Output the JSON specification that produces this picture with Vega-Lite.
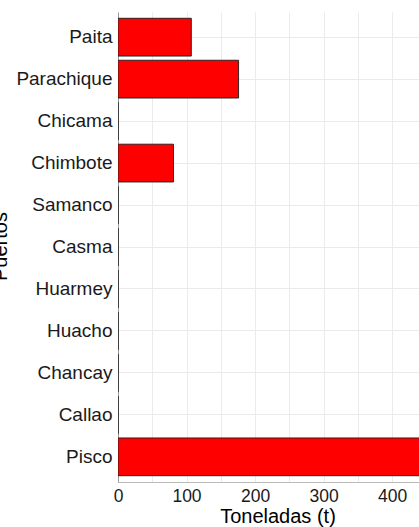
{
  "$schema": "https://vega.github.io/schema/vega-lite/v6.json",
  "autosize": {"type": "none"},
  "padding": {"left": 118, "top": 12, "right": 0, "bottom": 45},
  "width": 301,
  "height": 470,
  "background": "white",
  "config": {
    "view": {"stroke": null},
    "font": "Liberation Sans"
  },
  "data": {
    "values": [
      {"puerto": "Paita", "t": 107},
      {"puerto": "Parachique", "t": 176},
      {"puerto": "Chicama", "t": 0},
      {"puerto": "Chimbote", "t": 81},
      {"puerto": "Samanco", "t": 0},
      {"puerto": "Casma", "t": 0},
      {"puerto": "Huarmey", "t": 0},
      {"puerto": "Huacho", "t": 0},
      {"puerto": "Chancay", "t": 0},
      {"puerto": "Callao", "t": 0},
      {"puerto": "Pisco", "t": 465}
    ]
  },
  "mark": {"type": "bar", "fill": "#FF0000", "stroke": "#1a1a1a", "strokeWidth": 0.9, "clip": true},
  "encoding": {
    "y": {
      "field": "puerto",
      "type": "nominal",
      "sort": null,
      "scale": {"paddingInner": 0.1, "paddingOuter": 0.15},
      "axis": {
        "title": "Puertos",
        "titleFontSize": 20,
        "titleFontWeight": "normal",
        "titleColor": "#000000",
        "titleAngle": 270,
        "titleX": -112,
        "titleY": 234,
        "titleAlign": "center",
        "titleBaseline": "alphabetic",
        "labelFontSize": 19,
        "labelColor": "#1a1a1a",
        "labelPadding": 6,
        "ticks": false,
        "domain": true,
        "domainColor": "#9a9a9a",
        "domainWidth": 1,
        "grid": true,
        "gridColor": "#ebebeb",
        "gridWidth": 1
      }
    },
    "x": {
      "field": "t",
      "type": "quantitative",
      "scale": {"domain": [0, 439.4], "nice": false, "zero": true},
      "axis": {
        "title": "Toneladas (t)",
        "titleFontSize": 20,
        "titleFontWeight": "normal",
        "titleColor": "#000000",
        "titleX": 159.5,
        "titleY": 40,
        "titleAlign": "center",
        "titleBaseline": "alphabetic",
        "values": [0, 50, 100, 150, 200, 250, 300, 350, 400],
        "labelExpr": "datum.value % 100 == 0 ? datum.label : ''",
        "labelFontSize": 17.5,
        "labelColor": "#1a1a1a",
        "labelPadding": 5,
        "labelFlush": false,
        "labelOverlap": false,
        "ticks": false,
        "domain": true,
        "domainColor": "#bbbbbb",
        "domainWidth": 1,
        "grid": true,
        "gridColor": "#ebebeb",
        "gridWidth": 1
      }
    }
  }
}
